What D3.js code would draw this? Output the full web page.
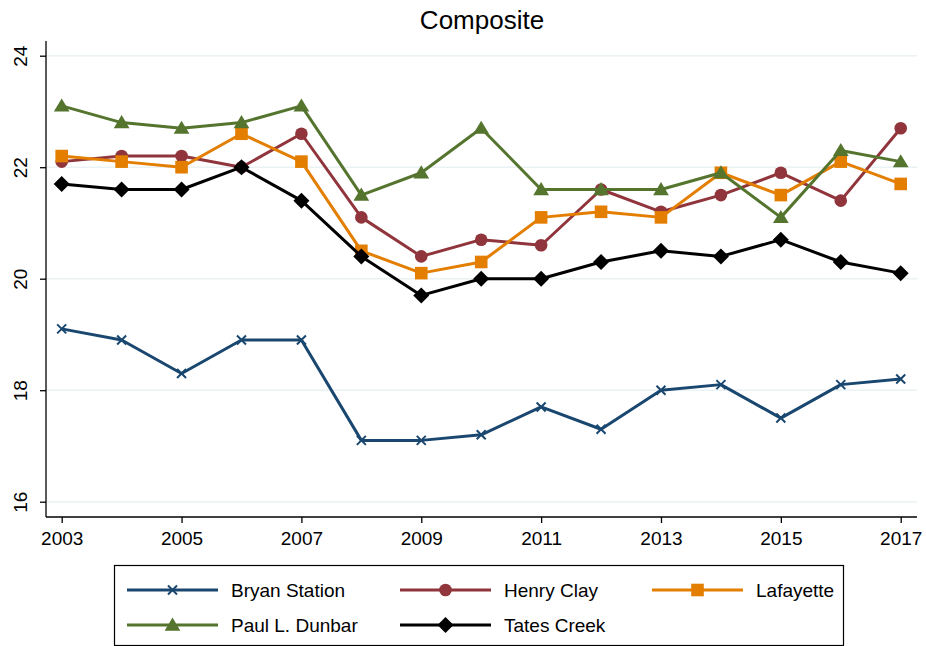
<!DOCTYPE html>
<html><head><meta charset="utf-8">
<script src="https://cdn.jsdelivr.net/npm/d3@7"></script>
<style>body{margin:0;background:#fff;} svg{display:block;font-family:"Liberation Sans",Arial,sans-serif;}</style>
</head><body>
<script>
const years = [2003,2004,2005,2006,2007,2008,2009,2010,2011,2012,2013,2014,2015,2016,2017];
const bryanStation = [19.1,18.9,18.3,18.9,18.9,17.1,17.1,17.2,17.7,17.3,18.0,18.1,17.5,18.1,18.2];
const henryClay   = [22.1,22.2,22.2,22.0,22.6,21.1,20.4,20.7,20.6,21.6,21.2,21.5,21.9,21.4,22.7];
const lafayette   = [22.2,22.1,22.0,22.6,22.1,20.5,20.1,20.3,21.1,21.2,21.1,21.9,21.5,22.1,21.7];
const paulDunbar  = [23.1,22.8,22.7,22.8,23.1,21.5,21.9,22.7,21.6,21.6,21.6,21.9,21.1,22.3,22.1];
const tatesCreek  = [21.7,21.6,21.6,22.0,21.4,20.4,19.7,20.0,20.0,20.3,20.5,20.4,20.7,20.3,20.1];
const seriesNames = ["Bryan Station","Henry Clay","Lafayette","Paul L. Dunbar","Tates Creek"];
const yTicks = [16,18,20,22,24];
const xTicks = [2003,2005,2007,2009,2011,2013,2015,2017];

const series = [
  {name:seriesNames[0], values:bryanStation, color:"#1a476f", marker:"x"},
  {name:seriesNames[1], values:henryClay, color:"#90353b", marker:"circle"},
  {name:seriesNames[2], values:lafayette, color:"#e37e00", marker:"square"},
  {name:seriesNames[3], values:paulDunbar, color:"#55752f", marker:"triangle"},
  {name:seriesNames[4], values:tatesCreek, color:"#000000", marker:"diamond"}
];

const W=926,H=646;
const svg=d3.select("body").append("svg").attr("width",W).attr("height",H);
const pLeft=46,pRight=917,pTop=41,pBottom=517;
const x=d3.scaleLinear().domain([2003,2017]).range([61.7,900.7]);
const y=d3.scaleLinear().domain([16,24]).range([501.7,55.7]);

// gridlines
svg.append("g").selectAll("line").data(yTicks).join("line")
  .attr("x1",pLeft).attr("x2",pRight).attr("y1",d=>y(d)).attr("y2",d=>y(d))
  .attr("stroke","#eaf2f3").attr("stroke-width",1.5);

// axes
const yAxis=svg.append("g").attr("transform",`translate(${pLeft},0)`)
  .call(d3.axisLeft(y).tickValues(yTicks).tickSize(6).tickFormat(d3.format("d")));
yAxis.select(".domain").attr("d",`M0,${pTop}V${pBottom}`).attr("stroke","#000").attr("stroke-width",1.3);
yAxis.selectAll(".tick line").attr("stroke","#000").attr("stroke-width",1.3);
yAxis.selectAll(".tick text").attr("transform","rotate(-90)").attr("x",0).attr("y",-19)
  .attr("dy","0").attr("text-anchor","middle").attr("font-size",19).attr("fill","#000");

const xAxis=svg.append("g").attr("transform",`translate(0,${pBottom})`)
  .call(d3.axisBottom(x).tickValues(xTicks).tickSize(6).tickFormat(d3.format("d")));
xAxis.select(".domain").attr("d",`M${pLeft},0H${pRight}`).attr("stroke","#000").attr("stroke-width",1.3);
xAxis.selectAll(".tick line").attr("stroke","#000").attr("stroke-width",1.3);
xAxis.selectAll(".tick text").attr("y",14.5).attr("dy","0.71em").attr("font-size",19).attr("fill","#000");

// title
svg.append("text").attr("x",482).attr("y",29).attr("text-anchor","middle")
  .attr("font-size",26).attr("fill","#000").text("Composite");

function drawMarker(g,type,color,cx,cy){
  if(type==="x"){
    const s=4.5;
    g.append("path").attr("d",`M${cx-s},${cy-s}L${cx+s},${cy+s}M${cx-s},${cy+s}L${cx+s},${cy-s}`)
      .attr("stroke",color).attr("stroke-width",2);
  } else if(type==="circle"){
    g.append("circle").attr("cx",cx).attr("cy",cy).attr("r",6.3).attr("fill",color);
  } else if(type==="square"){
    g.append("rect").attr("x",cx-6.3).attr("y",cy-6.3).attr("width",12.6).attr("height",12.6).attr("fill",color);
  } else if(type==="triangle"){
    const s=7.5;
    g.append("path").attr("d",`M${cx},${cy-s}L${cx+s*1.05},${cy+s*0.75}L${cx-s*1.05},${cy+s*0.75}Z`).attr("fill",color);
  } else if(type==="diamond"){
    const s=8;
    g.append("path").attr("d",`M${cx},${cy-s}L${cx+s},${cy}L${cx},${cy+s}L${cx-s},${cy}Z`).attr("fill",color);
  }
}

const line=d3.line().x((d,i)=>x(years[i])).y(d=>y(d));
series.forEach(s=>{
  const g=svg.append("g");
  g.append("path").datum(s.values).attr("d",line).attr("fill","none")
    .attr("stroke",s.color).attr("stroke-width",3).attr("stroke-linejoin","round");
  s.values.forEach((v,i)=>drawMarker(g,s.marker,s.color,x(years[i]),y(v)));
});

// legend
svg.append("rect").attr("x",114.5).attr("y",565.5).attr("width",729).attr("height",80)
  .attr("fill","#fff").attr("stroke","#000").attr("stroke-width",1.2);
const cols=[127,400,652], rows=[590,625];
series.forEach((s,i)=>{
  const cx=cols[i%3], cy=rows[Math.floor(i/3)];
  const g=svg.append("g");
  g.append("line").attr("x1",cx).attr("x2",cx+91).attr("y1",cy).attr("y2",cy)
    .attr("stroke",s.color).attr("stroke-width",3);
  drawMarker(g,s.marker,s.color,cx+45.5,cy);
  g.append("text").attr("x",cx+104).attr("y",cy).attr("dy","0.35em")
    .attr("font-size",19).attr("fill","#000").text(s.name);
});
</script>
</body></html>
